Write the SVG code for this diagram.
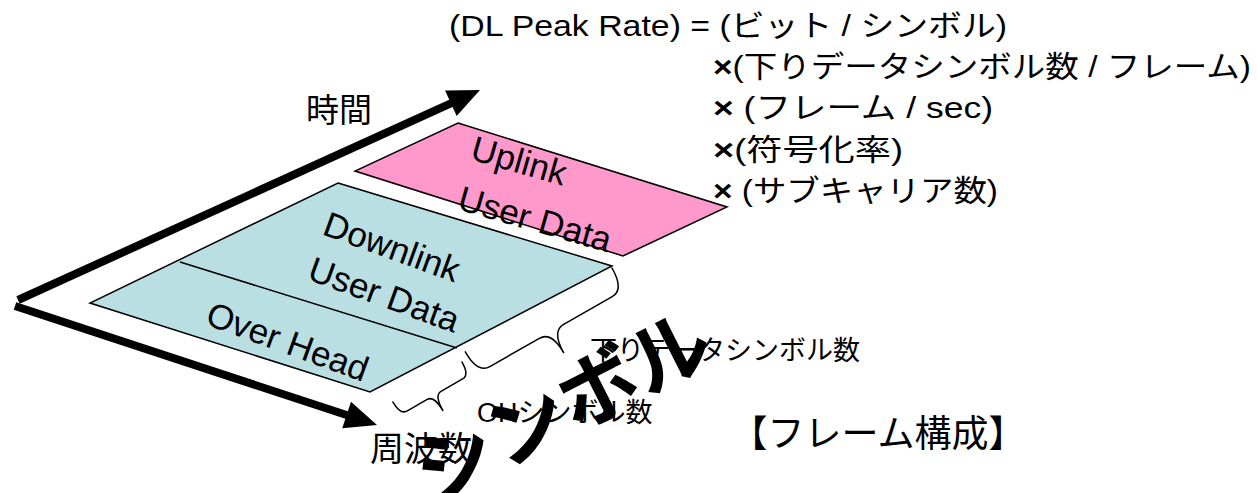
<svg xmlns="http://www.w3.org/2000/svg" width="1258" height="493" viewBox="0 0 1258 493">
<style>
.t{font-family:"Liberation Sans","Noto Sans CJK JP",sans-serif;fill:#000}
.shape{stroke:#000;stroke-width:1.5;stroke-linejoin:miter}
.brace{fill:none;stroke:#000;stroke-width:1.5;stroke-linecap:round}
.axis{stroke:#000;stroke-width:8;fill:none}
.in{font-size:35px}
</style>
<defs>
<marker id="head" markerUnits="userSpaceOnUse" markerWidth="40" markerHeight="32" viewBox="0 -16 36 32" refX="12" refY="0" orient="auto">
<path d="M0,-14 L32,0 L0,14 Z" fill="#000"/>
</marker>
</defs>
<rect width="1258" height="493" fill="#fff"/>

<g id="axes">
<line class="axis" x1="18" y1="300" x2="461.8" y2="98.3" marker-end="url(#head)"/>
<line class="axis" x1="15" y1="306" x2="358" y2="418.8" marker-end="url(#head)"/>
</g>

<g id="uplink">
<polygon class="shape" points="458,123 727,207 623,256 355,171" fill="#FF99CC"/>
<text class="t in" transform="translate(469,159) rotate(16)">Uplink</text>
<text class="t in" transform="translate(456,209) rotate(16)">User Data</text>
</g>

<g id="downlink">
<polygon class="shape" points="338,183 612,266 370,392 90,303" fill="#B9DFE3"/>
<line class="shape" x1="180" y1="262" x2="457" y2="348"/>
<text class="t in" transform="translate(321,234) rotate(20)">Downlink</text>
<text class="t in" transform="translate(306,279) rotate(20)">User Data</text>
</g>

<g id="overhead">
<text class="t in" transform="translate(204,324) rotate(20)">Over Head</text>
</g>

<g id="braces">
<path class="brace" transform="matrix(-0.868,0.496,0.496,0.868,612,268)" d="M0,0 Q0,25 14,25 L70,25 Q84,25 84,50 Q84,25 98,25 L155,25 Q169,25 169,0"/>
<path class="brace" transform="matrix(-0.863,0.5,0.5,0.863,462,362)" d="M0,0 Q0,15 8,15 L33,15 Q41,15 41,33 Q41,15 49,15 L72,15 Q80,15 80,0"/>
</g>

<g id="labels">
<text class="t" x="306" y="122" font-size="33">時間</text>
<text class="t" x="370" y="461" font-size="34">周波数</text>
<text class="t" x="590" y="360" font-size="27">下りデータシンボル数</text>
<text class="t" x="477" y="422" font-size="27">OHシンボル数</text>
<text class="t" x="878" y="447" font-size="37" text-anchor="middle">【フレーム構成】</text>
</g>

<g id="formula">
<text class="t" x="449" y="36" font-size="30" textLength="558" lengthAdjust="spacingAndGlyphs">(DL Peak Rate) = (ビット / シンボル)</text>
<text class="t" x="713" y="77" font-size="30" textLength="538" lengthAdjust="spacingAndGlyphs"><tspan font-weight="bold">×</tspan>(下りデータシンボル数 / フレーム)</text>
<text class="t" x="713" y="118" font-size="30" textLength="280" lengthAdjust="spacingAndGlyphs"><tspan font-weight="bold">×</tspan> (フレーム / sec)</text>
<text class="t" x="713" y="160" font-size="30" textLength="190" lengthAdjust="spacingAndGlyphs"><tspan font-weight="bold">×</tspan>(符号化率)</text>
<text class="t" x="713" y="201" font-size="30" textLength="285" lengthAdjust="spacingAndGlyphs"><tspan font-weight="bold">×</tspan> (サブキャリア数)</text>
</g>

<g id="symbol-overlay">
<text class="t" transform="translate(433,505) rotate(-27)" font-size="80" font-weight="bold">シンボル</text>
</g>
</svg>
